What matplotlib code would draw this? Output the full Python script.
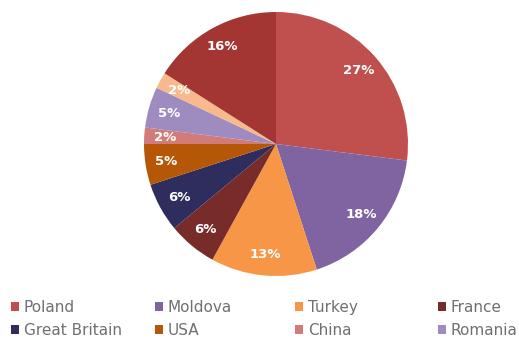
import matplotlib.pyplot as plt
from matplotlib.patches import Patch

countries = ["Poland", "Moldova", "Turkey", "France", "Great Britain",
             "USA", "China", "Romania", "Other A", "Other B"]
shares = [27, 18, 13, 6, 6, 5, 2, 5, 2, 16]
colors = ["#C0504D", "#8064A2", "#F79646", "#772C2A", "#2E2D5E",
          "#B65708", "#D27C79", "#9E8CC0", "#F8B98C", "#A33532"]
legend_names = countries[:8]
legend_x = [11, 155, 295, 438]


def main():
    fig = plt.figure(figsize=(5.19, 3.43), dpi=100)
    ax = fig.add_axes([(276 - 132) / 519, 1 - (144 + 132) / 343,
                       264 / 519, 264 / 343])
    ax.pie(
        shares, colors=colors, startangle=90, counterclock=False,
        autopct="%d%%", pctdistance=0.84,
        wedgeprops=dict(linewidth=0),
        textprops=dict(color="white", fontsize=9.5, fontweight="bold"),
    )
    ax.set_xlim(-1, 1)
    ax.set_ylim(-1, 1)
    ax.set_aspect("equal")

    # row-wise legend: one small legend per column
    for col in range(4):
        idx = [col, col + 4]
        handles = [Patch(facecolor=colors[i]) for i in idx]
        labels = [legend_names[i] for i in idx]
        fig.legend(handles, labels, loc="upper left",
                   bbox_to_anchor=(legend_x[col] / 519, 1 - 300 / 343),
                   frameon=False, fontsize=11, labelcolor="#707070",
                   handlelength=0.55, handleheight=0.55, handletextpad=0.3,
                   labelspacing=0.5, borderpad=0, borderaxespad=0)
    return fig


if __name__ == "__main__":
    fig = main()
    fig.savefig("out.png", dpi=100)
